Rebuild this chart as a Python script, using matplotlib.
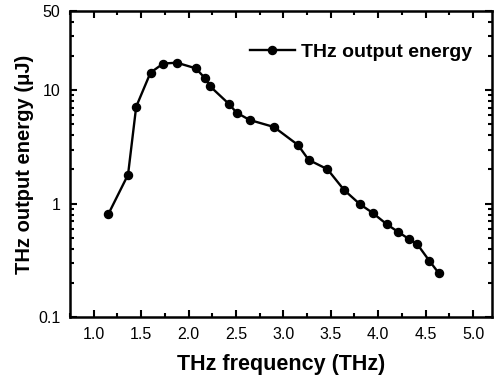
import numpy as np
import matplotlib
matplotlib.use("Agg")
import matplotlib.pyplot as plt
from matplotlib.ticker import FixedLocator, LogLocator, MultipleLocator, NullFormatter

plt.rcParams['font.family'] = ['Liberation Sans', 'DejaVu Sans']

freq = [1.155, 1.362, 1.448, 1.599, 1.733, 1.877, 2.077, 2.176, 2.229, 2.426,
        2.507, 2.644, 2.901, 3.154, 3.267, 3.465, 3.640, 3.806, 3.940, 4.088,
        4.214, 4.320, 4.411, 4.538, 4.640]
energy = [0.81, 1.80, 7.16, 14.3, 17.2, 17.5, 15.6, 12.7, 10.8, 7.57,
          6.34, 5.47, 4.74, 3.29, 2.43, 2.01, 1.32, 0.99, 0.83, 0.66,
          0.56, 0.49, 0.44, 0.314, 0.243]
y_ticks = [0.1, 1, 10, 50]
y_tick_labels = ['0.1', '1', '10', '50']

fig = plt.figure(figsize=(4.97, 3.76), dpi=100)
ax = fig.add_axes([70 / 497, 1 - 317 / 376, 422 / 497, 306 / 376])

ax.plot(freq, energy, '-o', color='black', lw=1.7, ms=5.8, label='THz output energy')

ax.set_yscale('log')
ax.set_xlim(0.75, 5.2)
ax.set_ylim(0.1, 50)
ax.xaxis.set_major_locator(MultipleLocator(0.5))
ax.xaxis.set_minor_locator(MultipleLocator(0.25))
ax.yaxis.set_major_locator(FixedLocator(y_ticks))
ax.set_yticklabels(y_tick_labels)
ax.yaxis.set_minor_locator(LogLocator(base=10, subs=np.arange(2, 10), numticks=20))
ax.yaxis.set_minor_formatter(NullFormatter())

ax.tick_params(which='both', direction='in', top=True, right=True, width=1.5)
ax.tick_params(which='major', length=5, labelsize=11.5, pad=7)
ax.tick_params(which='minor', length=3)
for s in ax.spines.values():
    s.set_linewidth(1.8)

ax.set_xlabel('THz frequency (THz)', fontsize=15.5, fontweight='bold', labelpad=9)
ax.set_ylabel('THz output energy (μJ)', fontsize=14.5, fontweight='bold', labelpad=3)

leg = ax.legend(loc='center left', frameon=False,
                prop={'weight': 'bold', 'size': 14}, handlelength=2.3,
                handletextpad=0.3, borderpad=0, borderaxespad=0,
                bbox_to_anchor=(180 / 422, 265 / 306))

fig.savefig('out.png', dpi=100)
